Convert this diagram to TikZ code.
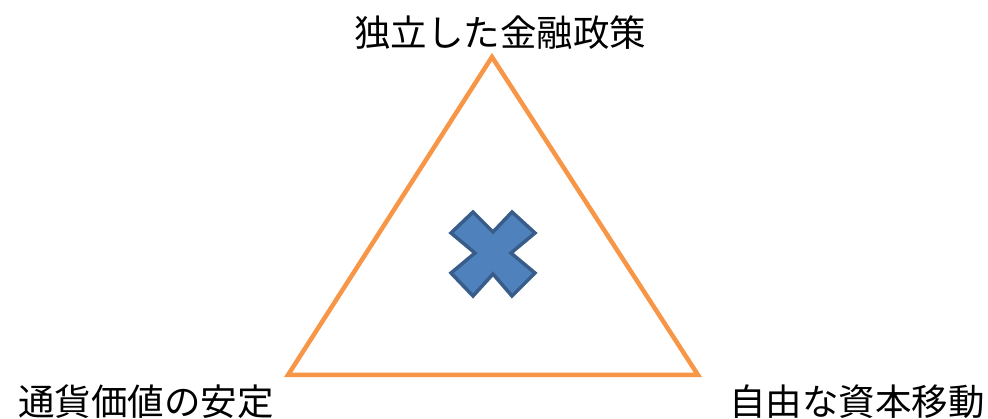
\documentclass[tikz,border=0pt]{standalone}
\usepackage{fontspec}
\newfontfamily\jp{Noto Sans CJK JP}
\definecolor{triorange}{HTML}{F79646}
\definecolor{crossfill}{HTML}{4F81BD}
\definecolor{crossline}{HTML}{385D8A}
\begin{document}
\begin{tikzpicture}[x=1pt,y=-1pt,
  lbl/.style={font=\jp\fontsize{36.5}{42}\selectfont, inner sep=0pt, anchor=center},
  tri/.style={draw=triorange, line width=4.5pt, line join=miter},
  crossshape/.style={fill=crossfill, draw=crossline, line width=3.5pt, line join=miter}]
\useasboundingbox (0,0) rectangle (988,419);
\coordinate (apex) at (492,57);
\coordinate (bl) at (288,375);
\coordinate (br) at (698,375);
\draw[tri] (apex) -- (bl) -- (br) -- cycle;
\draw[crossshape] (451,233) -- (473,212) -- (493,232) -- (512,212) -- (535,233) -- (511,253)
  -- (535,273) -- (512,296) -- (493,274) -- (473,296) -- (451,273) -- (475,253) -- cycle;
\node[lbl] (top) at (500,33) {独立した金融政策};
\node[lbl] (left) at (146,402) {通貨価値の安定};
\node[lbl] (right) at (857,402) {自由な資本移動};
\end{tikzpicture}
\end{document}
